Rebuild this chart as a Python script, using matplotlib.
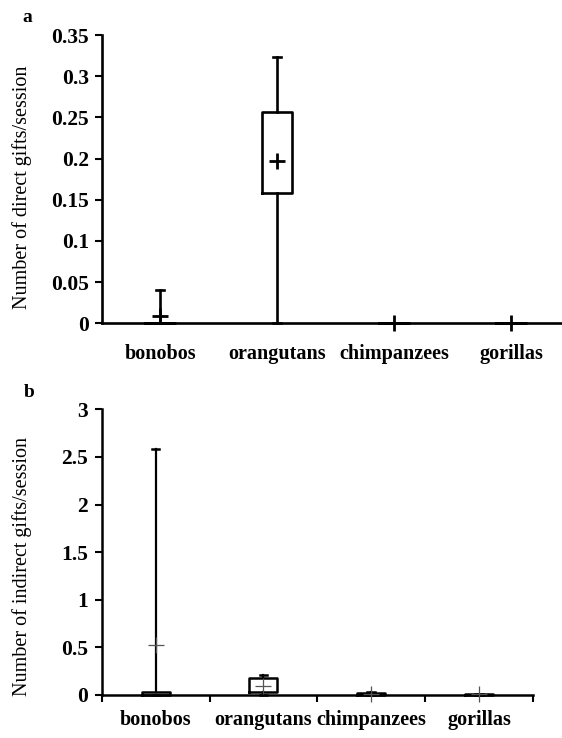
import matplotlib
matplotlib.use('Agg')
import matplotlib.pyplot as plt

plt.rcParams['font.family'] = ['Liberation Serif', 'DejaVu Serif']

categories = ['bonobos', 'orangutans', 'chimpanzees', 'gorillas']

# Panel a: direct gifts/session
a_min = [0.0, 0.0, 0.0, 0.0]
a_q1 = [0.0, 0.158, 0.0, 0.0]
a_q3 = [0.0, 0.257, 0.0, 0.0]
a_max = [0.041, 0.323, 0.0, 0.0]
a_mean = [0.0085, 0.1975, 0.0, 0.0]
a_ticks = [0, 0.05, 0.1, 0.15, 0.2, 0.25, 0.3, 0.35]
a_ticklabels = ['0', '0.05', '0.1', '0.15', '0.2', '0.25', '0.3', '0.35']

# Panel b: indirect gifts/session
b_min = [0.0, 0.0, 0.0, 0.0]
b_q1 = [0.0, 0.03, 0.0, 0.0]
b_q3 = [0.03, 0.18, 0.02, 0.012]
b_max = [2.58, 0.21, 0.03, 0.012]
b_mean = [0.53, 0.09, 0.01, 0.01]
b_ticks = [0, 0.5, 1, 1.5, 2, 2.5, 3]
b_ticklabels = ['0', '0.5', '1', '1.5', '2', '2.5', '3']


def make_stats(mn, q1, q3, mx, mean):
    out = []
    for lab, lo, a, b, hi, m in zip(categories, mn, q1, q3, mx, mean):
        out.append(dict(label=lab, whislo=lo, q1=a, med=m, q3=b, whishi=hi,
                        mean=m, fliers=[]))
    return out


fig = plt.figure(figsize=(5.62, 7.38), dpi=100)
W, H = 562.0, 738.0

# ---------------- panel a ----------------
axa = fig.add_axes([101.7 / W, 1 - 323.3 / H, 468 / W, 288.3 / H])
lw_a = 1.9
arts = axa.bxp(make_stats(a_min, a_q1, a_q3, a_max, a_mean),
               positions=[1, 2, 3, 4], widths=0.26, capwidths=0.07,
               showmeans=True, meanline=False, showfliers=False,
               boxprops=dict(color='black', linewidth=lw_a),
               whiskerprops=dict(color='black', linewidth=lw_a),
               capprops=dict(color='black', linewidth=lw_a),
               medianprops=dict(linewidth=0),
               meanprops=dict(marker='+', markersize=11, markeredgewidth=2.0,
                              markeredgecolor='black', color='black'))
for k, v in arts.items():
    for artist in v:
        artist.set_clip_on(False)
        artist.set_zorder(3)
axa.set_xlim(0.5, 4.5)
axa.set_ylim(0, 0.35)
axa.set_yticks(a_ticks)
axa.set_yticklabels(a_ticklabels)
axa.set_xticks([1, 2, 3, 4])
axa.set_xticklabels(categories)
axa.tick_params(axis='x', length=0, pad=15, labelsize=14.5)
axa.tick_params(axis='y', direction='out', length=5, width=1.5, pad=4, labelsize=15.5)
for lab in axa.get_xticklabels() + axa.get_yticklabels():
    lab.set_fontweight('bold')
for s in ['top', 'right']:
    axa.spines[s].set_visible(False)
for s in ['left', 'bottom']:
    axa.spines[s].set_linewidth(1.9)
fig.text(22 / W, 1 - 187 / H, 'Number of direct gifts/session', rotation=90,
         ha='center', va='center', fontsize=14.5)
fig.text(27 / W, 1 - 18 / H, 'a', ha='center', va='center', fontsize=14,
         fontweight='bold')

# ---------------- panel b ----------------
axb = fig.add_axes([101.7 / W, 1 - 695 / H, 431.3 / W, 285.7 / H])
arts = axb.bxp(make_stats(b_min, b_q1, b_q3, b_max, b_mean),
               positions=[1, 2, 3, 4], widths=0.26, capwidths=0.07,
               showmeans=True, meanline=False, showfliers=False,
               boxprops=dict(color='black', linewidth=1.8),
               whiskerprops=dict(color='black', linewidth=1.6),
               capprops=dict(color='black', linewidth=1.8),
               medianprops=dict(linewidth=0),
               meanprops=dict(marker='+', markersize=12, markeredgewidth=0.9,
                              markeredgecolor='#555555', color='#555555'))
for k, v in arts.items():
    for artist in v:
        artist.set_clip_on(False)
        artist.set_zorder(3)
axb.set_xlim(0.5, 4.5)
axb.set_ylim(0, 3)
axb.set_yticks(b_ticks)
axb.set_yticklabels(b_ticklabels)
axb.set_xticks([1, 2, 3, 4])
axb.set_xticklabels(categories)
axb.set_xticks([0.5, 1.5, 2.5, 3.5, 4.5], minor=True)
axb.tick_params(axis='x', which='major', length=0, pad=11, labelsize=14.5)
axb.tick_params(axis='x', which='minor', direction='out', length=5, width=1.5)
axb.tick_params(axis='y', direction='out', length=5, width=1.5, pad=5, labelsize=15.5)
for lab in axb.get_xticklabels() + axb.get_yticklabels():
    lab.set_fontweight('bold')
for s in ['top', 'right']:
    axb.spines[s].set_visible(False)
for s in ['left', 'bottom']:
    axb.spines[s].set_linewidth(1.8)
fig.text(22 / W, 1 - 566 / H, 'Number of indirect gifts/session', rotation=90,
         ha='center', va='center', fontsize=14.5)
fig.text(29 / W, 1 - 393 / H, 'b', ha='center', va='center', fontsize=14,
         fontweight='bold')

fig.savefig('out.png', dpi=100)
